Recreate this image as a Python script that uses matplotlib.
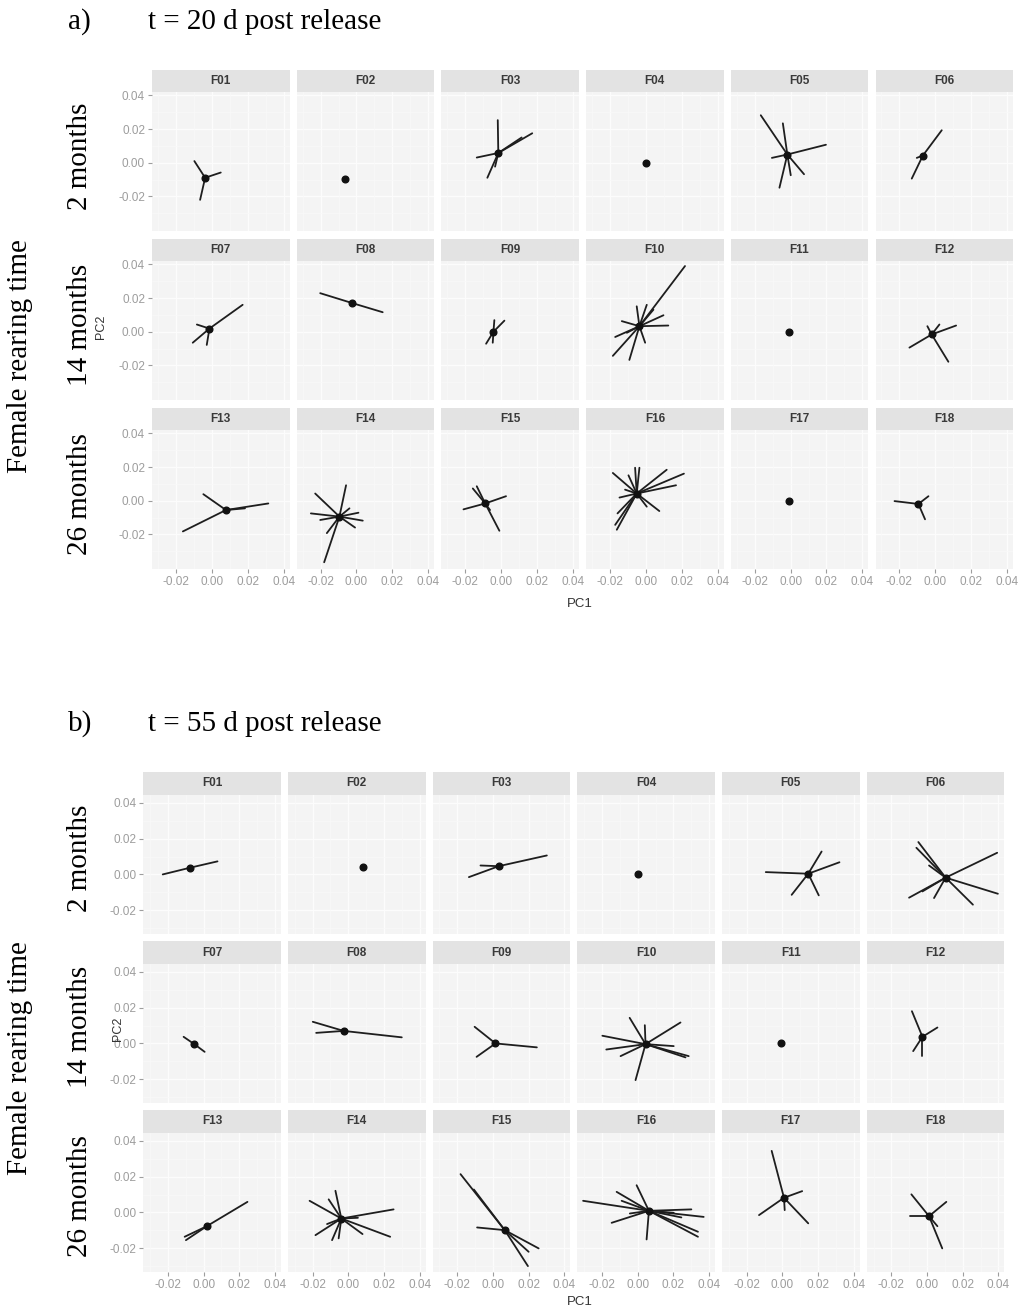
import matplotlib
matplotlib.use("Agg")
import matplotlib.pyplot as plt

# PCA centroids (PC1, PC2) and individual scores for each female, F01..F18
females = ["F%02d" % i for i in range(1, 19)]
rearing_times = ["2 months", "14 months", "26 months"]

centroids_20d = [
    (-0.0037, -0.0089), (-0.0063, -0.0094), (-0.0016, 0.0058), (0.0000, 0.0000),
    (-0.0018, 0.0049), (-0.0069, 0.0043), (-0.0013, 0.0019), (-0.0026, 0.0171),
    (-0.0043, 0.0000), (-0.0036, 0.0033), (-0.0007, 0.0000), (-0.0020, -0.0016),
    (0.0079, -0.0055), (-0.0095, -0.0094), (-0.0089, -0.0016), (-0.0051, 0.0043),
    (-0.0007, 0.0000), (-0.0094, -0.0019),
]
scores_20d = [
    [(-0.0097, 0.0010), (0.0050, -0.0058), (-0.0065, -0.0220)],
    [],
    [(-0.0019, 0.0253), (-0.0136, 0.0031), (-0.0077, -0.0089), (0.0173, 0.0175),
     (0.0114, 0.0150), (-0.0034, -0.0023)],
    [],
    [(-0.0166, 0.0282), (-0.0043, 0.0234), (0.0197, 0.0107), (-0.0104, 0.0029),
     (0.0075, -0.0068), (-0.0062, -0.0148), (0.0001, -0.0074)],
    [(0.0036, 0.0193), (-0.0131, -0.0094), (-0.0103, 0.0029)],
    [(0.0172, 0.0160), (-0.0106, -0.0065), (-0.0083, 0.0043), (-0.0028, -0.0078)],
    [(-0.0202, 0.0229), (0.0146, 0.0116)],
    [(0.0018, 0.0066), (-0.0084, -0.0071), (-0.0038, 0.0069), (-0.0047, -0.0065)],
    [(0.0218, 0.0390), (-0.0184, -0.0143), (-0.0092, -0.0167), (0.0125, 0.0037),
     (0.0098, 0.0098), (0.0005, 0.0160), (-0.0134, 0.0063), (-0.0171, -0.0031),
     (-0.0004, -0.0065), (0.0042, 0.0131), (-0.0106, -0.0006), (-0.0051, 0.0151)],
    [],
    [(0.0116, 0.0037), (-0.0144, -0.0094), (0.0073, -0.0178), (-0.0044, 0.0033),
     (0.0023, 0.0043)],
    [(-0.0047, 0.0039), (-0.0161, -0.0182), (0.0315, -0.0016), (0.0185, -0.0045)],
    [(-0.0058, 0.0092), (-0.0180, -0.0365), (-0.0230, 0.0043), (-0.0254, -0.0075),
     (0.0035, -0.0118), (0.0011, -0.0071), (-0.0008, -0.0159), (-0.0202, -0.0114),
     (-0.0165, -0.0192), (-0.0039, -0.0045)],
    [(0.0027, 0.0027), (-0.0210, -0.0051), (-0.0158, 0.0073), (-0.0136, 0.0086),
     (-0.0010, -0.0178), (-0.0062, -0.0055)],
    [(-0.0184, 0.0165), (-0.0060, 0.0196), (-0.0036, 0.0196), (0.0116, 0.0184),
     (0.0212, 0.0161), (0.0168, 0.0092), (0.0075, -0.0061), (0.0005, -0.0035),
     (-0.0162, -0.0172), (-0.0158, -0.0075), (-0.0147, 0.0019), (-0.0097, 0.0151),
     (-0.0171, -0.0143), (-0.0116, 0.0066)],
    [],
    [(-0.0227, -0.0002), (-0.0038, 0.0027), (-0.0057, -0.0110)],
]

centroids_55d = [
    (-0.0078, 0.0037), (0.0082, 0.0041), (0.0032, 0.0046), (0.0000, 0.0000),
    (0.0145, 0.0004), (0.0104, -0.0018), (-0.0052, -0.0004), (-0.0026, 0.0070),
    (0.0014, 0.0000), (0.0044, -0.0004), (-0.0006, 0.0003), (-0.0026, 0.0037),
    (0.0018, -0.0077), (-0.0039, -0.0034), (0.0066, -0.0099), (0.0063, 0.0009),
    (0.0009, 0.0082), (0.0011, -0.0021),
]
scores_55d = [
    [(-0.0229, 0.0000), (0.0078, 0.0073)],
    [],
    [(-0.0135, -0.0015), (0.0302, 0.0106), (-0.0070, 0.0050)],
    [],
    [(-0.0093, 0.0013), (0.0220, 0.0128), (0.0320, 0.0068), (0.0052, -0.0114),
     (0.0204, -0.0117)],
    [(-0.0049, 0.0181), (-0.0060, 0.0149), (0.0393, 0.0121), (0.0397, -0.0108),
     (0.0257, -0.0169), (-0.0101, -0.0130), (0.0039, -0.0132), (0.0011, 0.0050),
     (-0.0026, -0.0095)],
    [(-0.0112, 0.0037), (0.0006, -0.0047)],
    [(-0.0199, 0.0121), (-0.0180, 0.0059), (0.0300, 0.0034)],
    [(-0.0103, 0.0093), (-0.0092, -0.0075), (0.0246, -0.0022)],
    [(-0.0045, 0.0143), (0.0040, 0.0102), (0.0240, 0.0117), (-0.0198, 0.0043),
     (-0.0176, -0.0034), (-0.0096, -0.0071), (-0.0012, -0.0205), (0.0286, -0.0071),
     (0.0268, -0.0078), (0.0202, -0.0015)],
    [],
    [(-0.0085, 0.0180), (0.0058, 0.0089), (-0.0078, -0.0043), (-0.0026, -0.0071)],
    [(0.0246, 0.0059), (-0.0099, -0.0155), (-0.0106, -0.0136)],
    [(-0.0217, 0.0065), (0.0254, 0.0017), (0.0235, -0.0136), (-0.0184, -0.0127),
     (-0.0072, 0.0121), (-0.0110, 0.0073), (-0.0091, -0.0155), (-0.0054, -0.0145),
     (0.0080, -0.0121), (0.0054, -0.0030), (-0.0119, -0.0065)],
    [(-0.0182, 0.0214), (-0.0107, 0.0128), (-0.0089, -0.0084), (0.0196, -0.0300),
     (0.0256, -0.0201), (0.0200, -0.0220)],
    [(-0.0306, 0.0065), (-0.0118, 0.0115), (-0.0006, 0.0152), (-0.0090, 0.0065),
     (-0.0146, -0.0058), (0.0050, -0.0151), (0.0301, 0.0017), (0.0370, -0.0025),
     (0.0338, -0.0108), (0.0338, -0.0136), (0.0245, -0.0028), (-0.0044, -0.0006),
     (0.0202, -0.0002)],
    [(-0.0060, 0.0344), (-0.0131, -0.0015), (0.0111, 0.0119), (0.0145, -0.0061),
     (0.0013, 0.0013)],
    [(-0.0088, 0.0101), (0.0108, 0.0059), (-0.0097, -0.0021), (0.0085, -0.0201),
     (0.0058, -0.0077)],
]

ticks = [-0.02, 0.0, 0.02, 0.04]
tick_labels = ["-0.02", "0.00", "0.02", "0.04"]
minor_ticks = [-0.03, -0.01, 0.01, 0.03]

W, H = 1025, 1312
SERIF = "Liberation Serif"
SANS = "Liberation Sans"
TICK_COL = "#9d9d9d"

fig = plt.figure(figsize=(W / 100, H / 100), dpi=100)
fig.patch.set_facecolor("white")


def box(x, y, w, h):
    # pixel box (top-left origin) -> figure fraction rect
    return [x / W, 1 - (y + h) / H, w / W, h / H]


def draw_block(left, top, strip_h, xlim, ylim, centroids, scores,
               label, title, pc2_x, pc1_y):
    col_step, panel_w = 144.7, 137.5
    row_step, panel_h = 169, 139
    for i, name in enumerate(females):
        r, c = divmod(i, 6)
        x0 = left + c * col_step
        y0 = top + r * row_step
        # strip
        sax = fig.add_axes(box(x0, y0, panel_w, strip_h))
        sax.set_facecolor("#e3e3e3")
        sax.set_xticks([])
        sax.set_yticks([])
        for s in sax.spines.values():
            s.set_visible(False)
        sax.text(0.5, 0.5, name, ha="center", va="center", fontsize=8.5,
                 fontweight="bold", color="#3a3a3a", family=SANS)
        # panel
        ax = fig.add_axes(box(x0, y0 + strip_h, panel_w, panel_h))
        ax.set_facecolor("#f4f4f4")
        ax.set_xlim(*xlim)
        ax.set_ylim(*ylim)
        for s in ax.spines.values():
            s.set_visible(False)
        for v in ticks:
            ax.axvline(v, color="#fcfcfc", lw=0.9, zorder=0)
            ax.axhline(v, color="#fcfcfc", lw=0.9, zorder=0)
        for v in minor_ticks:
            ax.axvline(v, color="#f9f9f9", lw=0.5, zorder=0)
            ax.axhline(v, color="#f9f9f9", lw=0.5, zorder=0)
        cx, cy = centroids[i]
        for px, py in scores[i]:
            ax.plot([cx, px], [cy, py], color="#1e1e1e", lw=1.3,
                    solid_capstyle="round", zorder=2)
        ax.plot([cx], [cy], "o", color="#111111", ms=4.8, zorder=3)
        ax.set_xticks(ticks)
        ax.set_yticks(ticks)
        ax.tick_params(length=3, width=0.8, color=TICK_COL, labelcolor=TICK_COL,
                       labelsize=8.5, pad=2)
        if c == 0:
            ax.set_yticklabels(tick_labels, family=SANS)
        else:
            ax.tick_params(axis="y", length=0, labelleft=False)
        if r == 2:
            ax.set_xticklabels(tick_labels, family=SANS)
        else:
            ax.tick_params(axis="x", length=0, labelbottom=False)

    # headings and row labels
    fig.text(68 / W, 1 - (top - 48) / H, label, fontsize=21, family=SERIF,
             ha="left", va="center")
    fig.text(148 / W, 1 - (top - 48) / H, title, fontsize=21, family=SERIF,
             ha="left", va="center")
    for r, lab in enumerate(rearing_times):
        yc = top + r * row_step + 86
        fig.text(80 / W, 1 - yc / H, lab, rotation=90, fontsize=21,
                 family=SERIF, ha="center", va="center")
    fig.text(20 / W, 1 - (top + 286) / H, "Female rearing time", rotation=90,
             fontsize=21, family=SERIF, ha="center", va="center")
    fig.text(pc2_x / W, 1 - (top + 257) / H, "PC2", rotation=90, fontsize=9,
             family=SANS, color="#333333", ha="center", va="center")
    fig.text(580 / W, 1 - pc1_y / H, "PC1", fontsize=9.5, family=SANS,
             color="#333333", ha="center", va="center")


draw_block(152, 70, 22, (-0.0333, 0.0433), (-0.0405, 0.0420),
           centroids_20d, scores_20d, "a)", "t = 20 d post release", 101, 604)
draw_block(143.3, 772, 23, (-0.0338, 0.0433), (-0.0333, 0.0444),
           centroids_55d, scores_55d, "b)", "t = 55 d post release", 118, 1302)

fig.savefig("out.png", dpi=100, facecolor="white")
